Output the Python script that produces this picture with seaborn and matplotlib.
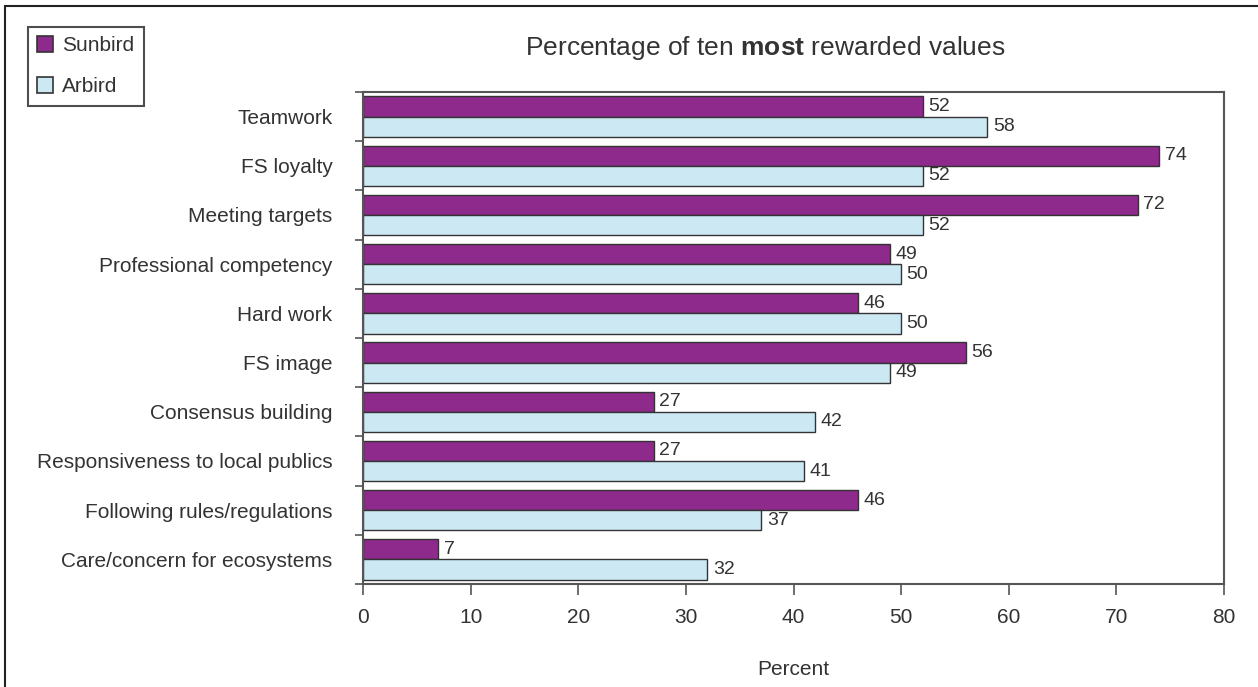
import matplotlib
matplotlib.use("Agg")
import matplotlib.pyplot as plt
import matplotlib.patches as mpatches
import seaborn as sns
import pandas as pd

categories = [
    "Teamwork",
    "FS loyalty",
    "Meeting targets",
    "Professional competency",
    "Hard work",
    "FS image",
    "Consensus building",
    "Responsiveness to local publics",
    "Following rules/regulations",
    "Care/concern for ecosystems",
]
sunbird = [52, 74, 72, 49, 46, 56, 27, 27, 46, 7]
arbird = [58, 52, 52, 50, 50, 49, 42, 41, 37, 32]
series = ["Sunbird", "Arbird"]
x_ticks = [0, 10, 20, 30, 40, 50, 60, 70, 80]

df = pd.DataFrame({
    "Value": categories * 2,
    "Percent": sunbird + arbird,
    "Series": [series[0]] * len(categories) + [series[1]] * len(categories),
})

sns.set_theme(style="white")
plt.rcParams["font.family"] = ["Liberation Sans", "DejaVu Sans"]
plt.rcParams["mathtext.fontset"] = "custom"
plt.rcParams["mathtext.rm"] = "Liberation Sans"
plt.rcParams["mathtext.bf"] = "Liberation Sans:bold"

text_color = "#333333"
spine_color = "#555555"
palette = {"Sunbird": "#8E2A8C", "Arbird": "#CBE8F3"}

W, H = 1258, 687
fig = plt.figure(figsize=(W / 100, H / 100), dpi=100)
ax = fig.add_axes([363 / W, 1 - 584 / H, (1224 - 363) / W, (584 - 92) / H])

sns.barplot(
    data=df, y="Value", x="Percent", hue="Series", order=categories,
    hue_order=series, palette=palette, orient="h", width=0.82, gap=0,
    edgecolor="#333333", linewidth=1.0, saturation=1, ax=ax,
)

for container in ax.containers:
    ax.bar_label(container, padding=4, fontsize=14, color=text_color)

ax.set_xlim(0, 80)
ax.set_ylim(len(categories) - 0.5, -0.5)
ax.set_xticks(x_ticks)
ax.set_xticklabels([str(t) for t in x_ticks])
ax.set_yticks(range(len(categories)))
ax.set_yticklabels(categories)
ax.set_yticks([i - 0.5 for i in range(len(categories) + 1)], minor=True)

ax.tick_params(axis="y", which="major", length=0, pad=22, labelsize=15, labelcolor=text_color)
ax.tick_params(axis="y", which="minor", left=True, length=6, width=1.2, color=spine_color)
ax.tick_params(axis="x", which="major", bottom=True, length=8, width=1.2, color=spine_color,
               pad=9, labelsize=15, labelcolor=text_color)

ax.set_ylabel("")
ax.set_xlabel("Percent", fontsize=15, color=text_color, labelpad=24)

for s in ax.spines.values():
    s.set_visible(True)
    s.set_color(spine_color)
    s.set_linewidth(1.5)

handles, labels = ax.get_legend_handles_labels()
ax.get_legend().remove()
leg = fig.legend(
    handles, labels, loc="upper left", bbox_to_anchor=(28 / W, 1 - 27 / H),
    borderaxespad=0, frameon=True, fancybox=False, fontsize=15,
    handlelength=0.75, handleheight=0.75, handletextpad=0.45,
    labelspacing=1.05, borderpad=0.45,
)
leg.get_frame().set_edgecolor("#222222")
leg.get_frame().set_linewidth(1.5)
for t in leg.get_texts():
    t.set_color(text_color)
for p in leg.get_patches():
    p.set_edgecolor("#333333")
    p.set_linewidth(1.2)

fig.text(765 / W, 1 - 48 / H, r"Percentage of ten $\mathbf{most}$ rewarded values",
         ha="center", va="center", fontsize=19, color=text_color)

# outer frame (top and left edges visible)
frame = mpatches.Rectangle((5 / W, -0.1), 1.2, 1 - 6 / H + 0.1, transform=fig.transFigure,
                           fill=False, edgecolor="#222222", linewidth=1.5)
fig.patches.append(frame)

fig.savefig("out.png", dpi=100)
